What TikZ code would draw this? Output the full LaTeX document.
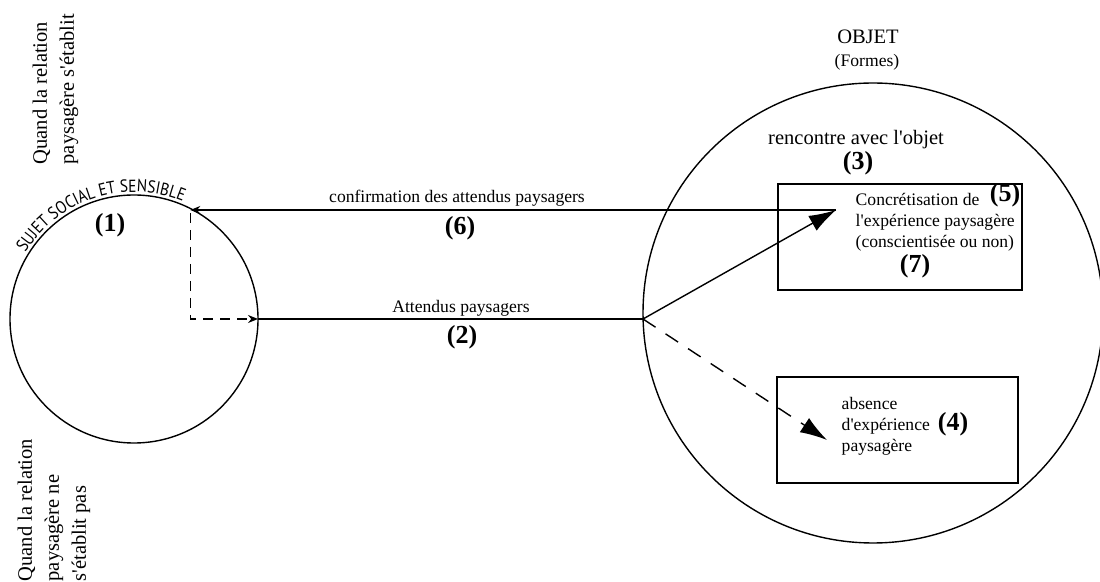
\documentclass[tikz,border=0pt]{standalone}
\usepackage{fontspec}
\setmainfont{Liberation Serif}
\newfontfamily\sujetfont[FakeStretch=0.87]{PT Sans}
\usetikzlibrary{arrows.meta,decorations.text}
\newcommand\apos{\textquotesingle}
\begin{document}
\begin{tikzpicture}[x=1pt,y=1pt,line width=1.4pt,
  txt/.style={font=\fontsize{17.6}{21}\selectfont,inner sep=0pt},
  big/.style={font=\fontsize{20.5}{27}\selectfont,inner sep=0pt},
  num/.style={font=\fontsize{26}{28}\selectfont\bfseries,inner sep=0pt},
  ring/.style={draw,circle,inner sep=0pt,outer sep=0pt},
  boite/.style={draw,rectangle,inner sep=0pt,outer sep=0pt},
  petite/.style={-{Stealth[length=10pt,width=8pt]}},
  grosse/.style={-{Latex[length=27pt,width=17pt]}},
  tirets/.style={dash pattern=on 10pt off 7pt},
  longtirets/.style={dash pattern=on 15pt off 12pt}]
\useasboundingbox (0,0) rectangle (1100,581);
\node[ring,minimum size=248pt] (sujet) at (134,262) {};
\node[ring,minimum size=460pt] (objet) at (873,268) {};
\node[boite,minimum width=244pt,minimum height=106pt] (concbox) at (900,344) {};
\node[boite,minimum width=241pt,minimum height=106pt] (absbox) at (897.5,151) {};
\coordinate (concret) at (836,371);
\coordinate (absent) at (827,141);
\coordinate (coin) at (sujet.63 |- sujet.east);
\coordinate (seuil) at (sujet.east -| objet.west);

\draw[petite] (concret) -- (concret -| sujet.63);
\draw[tirets,petite] ([yshift=-3pt]concret -| sujet.63) -- (coin) -- (sujet.east);
\draw (sujet.east) -- (seuil);
\draw[grosse] (seuil) -- (concret);
\draw[longtirets,grosse] (seuil) -- (absent);

\path[decorate,decoration={text along path,text align=center,
  text={|\sujetfont\fontsize{17.5}{17.5}\selectfont|SUJET SOCIAL ET SENSIBLE}}]
  (sujet.center) ++(156:127) arc[start angle=156,end angle=60,radius=127];

\node[big] (objetlbl) at (868,544) {OBJET};
\node[txt] (formes) at (867,519) {(Formes)};
\node[big] (rencontre) at (856,441) {rencontre avec l\apos objet};
\node[num] (n3) at (858,418) {(3)};
\node[txt,anchor=west,align=left] (conctxt) at (855,359) {Concrétisation de\\l\apos expérience paysagère\\(conscientisée ou non)};
\node[num] (n5) at (1005,386) {(5)};
\node[num] (n7) at (915,315) {(7)};
\node[txt,anchor=west,align=left] (abstxt) at (841,155) {absence\\d\apos expérience\\paysagère};
\node[num] (n4) at (953,157) {(4)};
\node[txt] (confirm) at (457,383) {confirmation des attendus paysagers};
\node[num] (n6) at (460,353) {(6)};
\node[txt] (attendus) at (461,273) {Attendus paysagers};
\node[num] (n2) at (462,244) {(2)};
\node[num] (n1) at (110,356) {(1)};
\node[big,rotate=90,anchor=north west,align=left] (quandoui) at (32,416) {Quand la relation\\paysagère s\apos établit};
\node[big,rotate=90,anchor=north west,align=left] (quandnon) at (17,-1) {Quand la relation\\paysagère ne\\s\apos établit pas};
\end{tikzpicture}
\end{document}
